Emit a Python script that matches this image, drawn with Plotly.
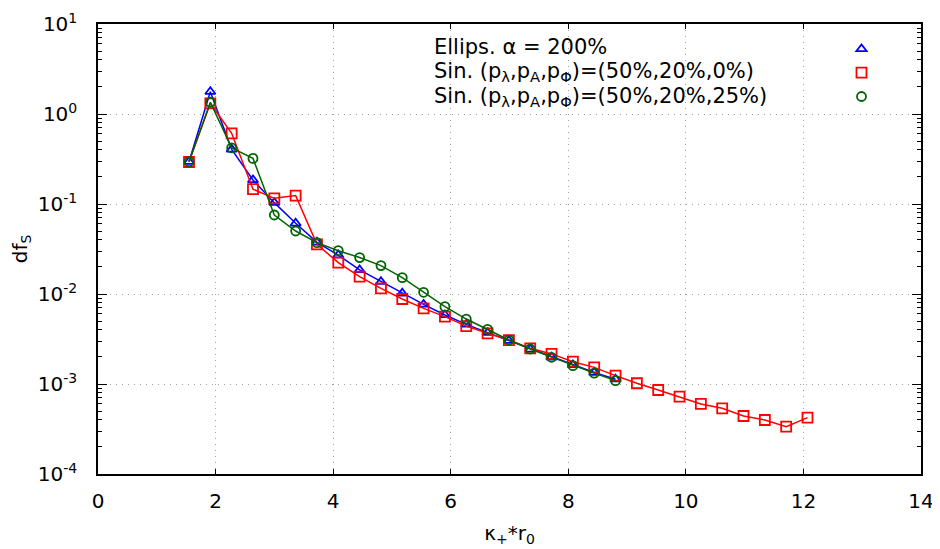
import numpy as np
import plotly.graph_objects as go

# kappa_+ * r_0 sample positions (common grid)
k_step = 0.3628
k_start = 1.548
x_red = [round(k_start + i * k_step, 4) for i in range(30)]
x_blue = x_red[:21]
x_green = x_red[:21]

ellips_200 = [0.295, 1.77, 0.405, 0.185, 0.1035, 0.061, 0.0375, 0.0271, 0.0185,
              0.0137, 0.0102, 0.00767, 0.00585, 0.0046, 0.00372, 0.00303, 0.00243,
              0.00198, 0.00163, 0.00134, 0.00113]
sin_50_20_0 = [0.293, 1.315, 0.61, 0.146, 0.1156, 0.124, 0.0356, 0.0223, 0.01556,
               0.01156, 0.0088, 0.00693, 0.0056, 0.0044, 0.00366, 0.00308, 0.00249,
               0.00216, 0.00177, 0.00153, 0.00124, 0.00102, 0.000858, 0.000723,
               0.0006, 0.000537, 0.000441, 0.000398, 0.000336, 0.000423]
sin_50_20_25 = [0.295, 1.35, 0.42, 0.321, 0.0755, 0.0501, 0.0372, 0.0303, 0.0254,
                0.0207, 0.0152, 0.01045, 0.00723, 0.00527, 0.00404, 0.00308, 0.00245,
                0.00198, 0.0016, 0.00132, 0.00109]

labels = [
    "Ellips. α = 200%",
    "Sin. (p<sub>λ</sub>,p<sub>A</sub>,p<sub>Φ</sub>)=(50%,20%,0%)",
    "Sin. (p<sub>λ</sub>,p<sub>A</sub>,p<sub>Φ</sub>)=(50%,20%,25%)",
]

series = [
    (x_blue, ellips_200, "#0000ff", "triangle-up-open", 9),
    (x_red, sin_50_20_0, "#ff0000", "square-open", 10),
    (x_green, sin_50_20_25, "#006400", "circle-open", 9),
]

ytick_vals = [1e-4, 1e-3, 1e-2, 1e-1, 1e0, 1e1]
ytick_text = ["10<sup>-4</sup>", "10<sup>-3</sup>", "10<sup>-2</sup>",
              "10<sup>-1</sup>", "10<sup>0</sup>", "10<sup>1</sup>"]
y_minor = [m * 10.0 ** e for e in range(-4, 1) for m in range(2, 10)]

fig = go.Figure()
for xs, ys, col, sym, sz in series:
    fig.add_trace(go.Scatter(
        x=xs, y=ys, mode="lines",
        line=dict(color=col, width=1.5),
        showlegend=False, hoverinfo="skip",
    ))
    fig.add_trace(go.Scatter(
        x=xs, y=ys, mode="markers",
        marker=dict(symbol=sym, size=sz, color=col, line=dict(width=1.8, color=col)),
        name="", showlegend=True,
    ))

font = dict(family="DejaVu Sans", size=20, color="black")

# page body has an 8px margin, so the figure is 8px smaller each way
W, H = 932, 541
ml, mr, mt, mb = 90, 19, 16, 75
pw, ph = W - ml - mr, H - mt - mb

for i, txt in enumerate(labels):
    fig.add_annotation(
        xref="paper", yref="paper", x=(432 - 8 - ml) / pw,
        y=1 - (47 + i * 25 - 8 - mt) / ph,
        text=txt, showarrow=False, xanchor="left", yanchor="middle",
        font=dict(family="DejaVu Sans", size=21, color="black"),
    )

fig.update_xaxes(
    range=[0, 14], dtick=2, tick0=0, automargin=False,
    showline=True, linecolor="black", linewidth=1.5, mirror="ticks",
    ticks="inside", ticklen=5, tickcolor="black", ticklabelstandoff=8,
    showgrid=True, gridcolor="#a0a0a0", griddash="1px,5px", gridwidth=1,
    zeroline=False, tickfont=font,
    title=dict(text="κ<sub>+</sub>*r<sub>0</sub>", font=font, standoff=14),
)
fig.update_yaxes(
    type="log", range=[-4, 1], automargin=False,
    tickvals=ytick_vals, ticktext=ytick_text,
    showline=True, linecolor="black", linewidth=1.5, mirror="ticks",
    ticks="inside", ticklen=9, tickcolor="black", ticklabelstandoff=15,
    minor=dict(tickmode="array", tickvals=y_minor, ticks="inside", ticklen=4,
               tickcolor="black", showgrid=False),
    showgrid=True, gridcolor="#a0a0a0", griddash="1px,5px", gridwidth=1,
    zeroline=False, tickfont=font,
    title=dict(text="df<sub>S</sub>", font=font, standoff=12),
)

fig.update_layout(
    width=W, height=H,
    margin=dict(l=ml, r=mr, t=mt, b=mb, autoexpand=False),
    plot_bgcolor="white", paper_bgcolor="white",
    font=font,
    legend=dict(
        x=(864 - 8 - ml) / pw, y=1 - (32 - 8 - mt) / ph, xanchor="center", yanchor="top",
        bgcolor="rgba(0,0,0,0)", font=dict(size=16), tracegroupgap=0,
        itemwidth=30,
    ),
)

fig.write_html("out.html")
